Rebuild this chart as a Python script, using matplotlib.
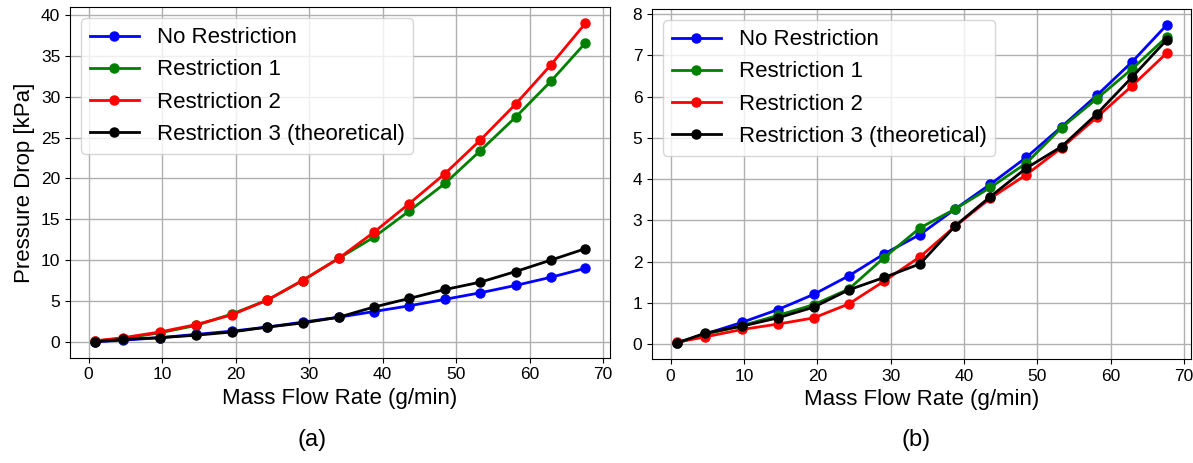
import matplotlib.pyplot as plt
import numpy as np

plt.rcParams['font.family'] = ['Liberation Sans', 'DejaVu Sans']

# mass flow rate (g/min)
flow = [0.8, 4.7, 9.7, 14.6, 19.5, 24.3, 29.1, 34.0, 38.8, 43.6, 48.5, 53.3, 58.1, 62.9, 67.6]

# (a) pressure drop [kPa]
a_none = [0.0, 0.2, 0.5, 0.9, 1.3, 1.8, 2.4, 3.0, 3.7, 4.4, 5.2, 6.0, 6.9, 7.9, 9.0]
a_r1 = [0.1, 0.4, 1.1, 2.0, 3.4, 5.1, 7.5, 10.2, 12.8, 16.0, 19.4, 23.4, 27.5, 31.9, 36.6]
a_r2 = [0.1, 0.5, 1.2, 2.1, 3.3, 5.1, 7.5, 10.2, 13.4, 16.9, 20.6, 24.7, 29.1, 33.9, 39.0]
a_r3 = [0.0, 0.3, 0.5, 0.8, 1.2, 1.8, 2.3, 3.0, 4.25, 5.3, 6.4, 7.3, 8.6, 10.0, 11.4]

# (b) pressure drop
b_none = [0.03, 0.25, 0.53, 0.84, 1.21, 1.66, 2.19, 2.66, 3.28, 3.88, 4.53, 5.27, 6.03, 6.84, 7.73]
b_r1 = [0.03, 0.24, 0.45, 0.70, 0.96, 1.34, 2.10, 2.82, 3.28, 3.80, 4.39, 5.25, 5.95, 6.67, 7.44]
b_r2 = [0.05, 0.18, 0.36, 0.49, 0.64, 0.98, 1.53, 2.12, 2.86, 3.54, 4.11, 4.76, 5.50, 6.26, 7.05]
b_r3 = [0.03, 0.27, 0.44, 0.64, 0.90, 1.32, 1.62, 1.95, 2.87, 3.58, 4.27, 4.79, 5.58, 6.47, 7.37]

labels = ['No Restriction', 'Restriction 1', 'Restriction 2', 'Restriction 3 (theoretical)']
colors = ['blue', 'green', 'red', 'black']

W, H = 1193, 463
fig = plt.figure(figsize=(W / 100, H / 100), dpi=100)
# axes boxes in pixels: left, top, right, bottom
ax1 = fig.add_axes([70 / W, 1 - 357.7 / H, (610 - 70) / W, (357.7 - 7.3) / H])
ax2 = fig.add_axes([652 / W, 1 - 359 / H, (1191 - 652) / W, (359 - 9.3) / H])

for ax, data in [(ax1, [a_none, a_r1, a_r2, a_r3]), (ax2, [b_none, b_r1, b_r2, b_r3])]:
    for y, lab, c in zip(data, labels, colors):
        ax.plot(flow, y, color=c, label=lab, linewidth=2, marker='o', markersize=6.5)
    ax.grid(True, color='#b0b0b0', linewidth=1)
    ax.set_xticks([0, 10, 20, 30, 40, 50, 60, 70])
    ax.tick_params(labelsize=12.5)
    ax.set_xlabel('Mass Flow Rate (g/min)', fontsize=16)
    ax.legend(loc='upper left', fontsize=16, handlelength=2.2)

ax1.set_yticks([0, 5, 10, 15, 20, 25, 30, 35, 40])
ax1.set_ylabel('Pressure Drop [kPa]', fontsize=16)
ax2.set_yticks([0, 1, 2, 3, 4, 5, 6, 7, 8])

fig.text(312 / W, 1 - 440 / H, '(a)', fontsize=17, ha='center', va='center')
fig.text(916 / W, 1 - 440 / H, '(b)', fontsize=17, ha='center', va='center')

fig.savefig('out.png', dpi=100)
